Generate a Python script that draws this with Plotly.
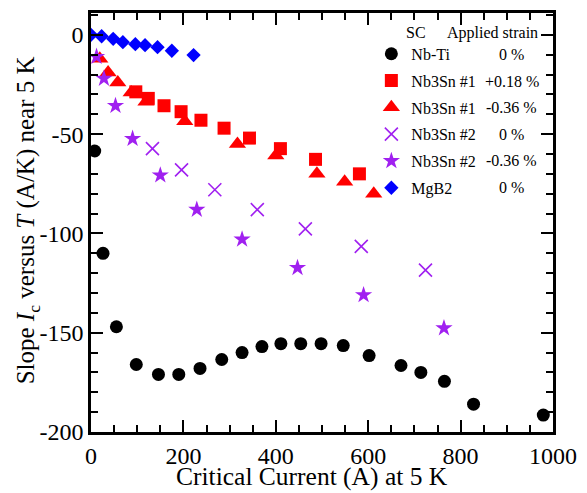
import plotly.graph_objects as go

# ---- data ----
nbti_x = [8, 26, 55, 98, 146, 190, 236, 283, 327, 370, 411, 454, 498, 546, 602, 671, 714, 765, 828, 979]
nbti_y = [-58.5, -110, -147, -166, -171, -171, -168, -163.5, -160, -157, -155.5, -155.5, -155.5, -156.5, -161.5, -166.5, -170, -174.5, -186, -191.5]

sn1p_x = [97, 124, 158, 195, 238, 288, 343, 410, 486, 581]
sn1p_y = [-28.7, -32, -35.7, -38.7, -43, -47, -52, -57.3, -62.7, -70]

sn1m_x = [19, 37, 58, 87, 119, 203, 317, 400, 489, 549, 612]
sn1m_y = [-12, -19, -24, -29, -33.7, -43.5, -55, -60.7, -70, -74, -80]

sn2z_x = [133, 196, 268, 360, 464, 585, 724]
sn2z_y = [-57.3, -68, -78, -88, -97.7, -106.5, -118.5]

sn2m_x = [12, 28, 53, 90, 150, 229, 327, 447, 590, 764]
sn2m_y = [-11, -22, -35.7, -52.3, -70.7, -88, -103, -117.3, -131, -147.7]

mgb2_x = [0, 23, 48, 69, 96, 117, 144, 175, 222]
mgb2_y = [0, -0.7, -2, -3.7, -4.7, -5.2, -6.2, -8, -10.2]

names = ["Nb-Ti", "Nb3Sn #1", "Nb3Sn #1", "Nb3Sn #2", "Nb3Sn #2", "MgB2"]
strains = ["0 %", "+0.18 %", "-0.36 %", "0 %", "-0.36 %", "0 %"]

x_ticks = [0, 200, 400, 600, 800, 1000]
y_ticks = [0, -50, -100, -150, -200]

RED = "#ff0000"
PURPLE = "#a020f0"
BLUE = "#0000ff"
FONT = "'Liberation Serif', 'Times New Roman', 'DejaVu Serif', serif"

series = [
    (nbti_x, nbti_y, "circle", 13, "black"),
    (sn1p_x, sn1p_y, "square", 13, RED),
    (sn1m_x, sn1m_y, "triangle-up", 15, RED),
    (sn2z_x, sn2z_y, "x-thin-open", 13, PURPLE),
    (sn2m_x, sn2m_y, "star", 13, PURPLE),
    (mgb2_x, mgb2_y, "diamond", 11, BLUE),
]

fig = go.Figure()
for i, (xs, ys, sym, sz, col) in enumerate(series):
    if sym == "x-thin-open":
        marker = dict(symbol=sym, size=sz, color=col, line=dict(color=col, width=1.6))
    else:
        marker = dict(symbol=sym, size=sz, color=col, line=dict(width=0))
    fig.add_trace(go.Scatter(x=xs, y=ys, mode="markers", marker=marker,
                             name=names[i], legendgroup="g%d" % i,
                             showlegend=True))

W, H = 587, 493
L, R, T, B = 91, 28, 10, 61
pw, ph = W - L - R, H - T - B

def px_to_paper(px, py):
    return (px - L) / pw, (H - B - py) / ph

annotations = []
# header
hx, hy = px_to_paper(408, 30)
annotations.append(dict(text="SC", x=hx, y=hy, xref="paper", yref="paper",
                        xanchor="left", yanchor="middle", showarrow=False,
                        font=dict(family=FONT, size=16, color="black")))
hx, hy = px_to_paper(546, 30)
annotations.append(dict(text="Applied strain", x=hx, y=hy, xref="paper", yref="paper",
                        xanchor="right", yanchor="middle", showarrow=False,
                        font=dict(family=FONT, size=16, color="black")))
# strain column
row_y = [52, 79, 105, 132, 159, 186]
for s, ry in zip(strains, row_y):
    sx, sy = px_to_paper(517, ry)
    annotations.append(dict(text=s, x=sx, y=sy, xref="paper", yref="paper",
                            xanchor="center", yanchor="middle", showarrow=False,
                            font=dict(family=FONT, size=16, color="black")))
# axis titles
tx, ty = px_to_paper(315, 493)
annotations.append(dict(text="Critical Current (A) at 5 K", x=tx, y=ty,
                        xref="paper", yref="paper", xanchor="center", yanchor="bottom",
                        showarrow=False, font=dict(family=FONT, size=25.5, color="black")))
tx, ty = px_to_paper(27, 219)
annotations.append(dict(text="Slope <i>I</i><sub>c</sub> versus <i>T</i> (A/K) near 5 K",
                        x=tx, y=ty, xref="paper", yref="paper", textangle=-90,
                        xanchor="center", yanchor="middle", showarrow=False,
                        font=dict(family=FONT, size=25, color="black")))

lx, ly = px_to_paper(375, 34)
fig.update_layout(
    width=W, height=H,
    margin=dict(l=L, r=R, t=T, b=B),
    paper_bgcolor="white", plot_bgcolor="white",
    font=dict(family=FONT, size=24, color="black"),
    showlegend=True,
    legend=dict(x=lx, y=ly, xref="paper", yref="paper", xanchor="left", yanchor="top",
                bgcolor="rgba(0,0,0,0)", font=dict(family=FONT, size=16, color="black"),
                tracegroupgap=3, itemsizing="trace"),
    annotations=annotations,
)
fig.update_xaxes(range=[0, 1000], tickmode="array", tickvals=x_ticks,
                 ticktext=[str(v) for v in x_ticks],
                 showline=True, linecolor="black", linewidth=2.5, mirror="ticks",
                 ticks="inside", ticklen=12, tickwidth=2, tickcolor="black",
                 minor=dict(tickmode="linear", tick0=0, dtick=50, ticks="inside",
                            ticklen=7, tickwidth=2, tickcolor="black"),
                 showgrid=False, zeroline=False, ticklabelstandoff=0,
                 tickfont=dict(family=FONT, size=24, color="black"))
fig.update_yaxes(range=[-200, 11], tickmode="array", tickvals=y_ticks,
                 ticktext=["0" if v == 0 else "-%d" % (-v) for v in y_ticks],
                 showline=True, linecolor="black", linewidth=2.5, mirror="ticks",
                 ticks="inside", ticklen=12, tickwidth=2, tickcolor="black",
                 minor=dict(tickmode="linear", tick0=0, dtick=10, ticks="inside",
                            ticklen=7, tickwidth=2, tickcolor="black"),
                 showgrid=False, zeroline=False,
                 tickfont=dict(family=FONT, size=24, color="black"))

fig.write_html("out.html")
